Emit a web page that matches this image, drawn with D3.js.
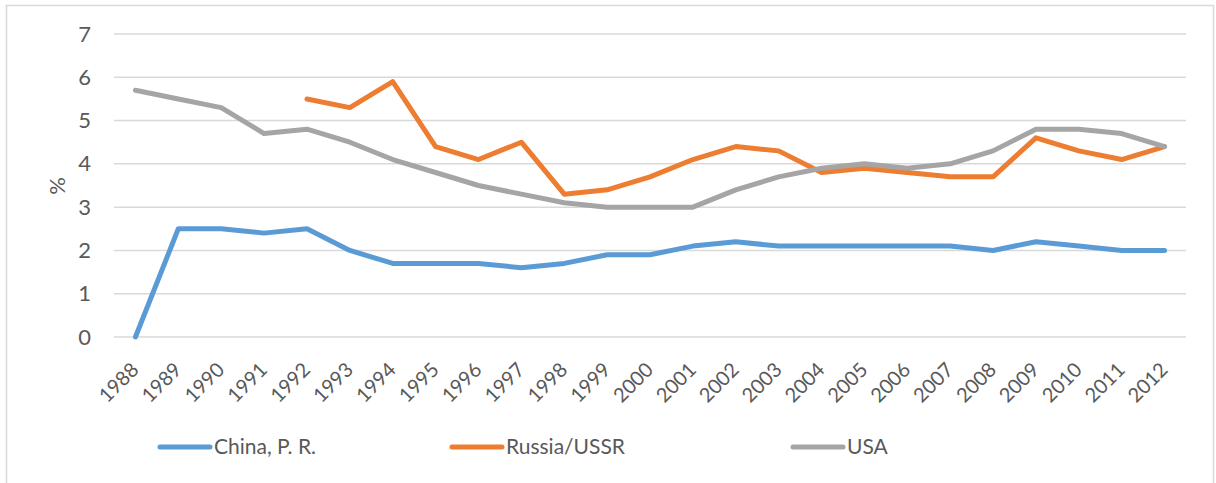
<!DOCTYPE html>
<html>
  <head>
    <title>Military spending, % of GDP</title>
    <script src="https://cdn.jsdelivr.net/npm/d3@7/dist/d3.min.js"></script>
    <style>
      body { margin: 0; background: #fff; }
      text { font-family: Lato, "Open Sans", sans-serif; fill: #595959; }
    </style>
  </head>
  <body>
    <svg width="1216" height="483"></svg>
    <script>

      const years = d3.range(1988, 2013).map(String);

      const china = [0, 2.5, 2.5, 2.4, 2.5, 2.0, 1.7, 1.7, 1.7, 1.6, 1.7, 1.9, 1.9,
                     2.1, 2.2, 2.1, 2.1, 2.1, 2.1, 2.1, 2.0, 2.2, 2.1, 2.0, 2.0];

      // no figures before 1992
      const russia = [null, null, null, null, 5.5, 5.3, 5.9, 4.4, 4.1, 4.5, 3.3, 3.4, 3.7,
                      4.1, 4.4, 4.3, 3.8, 3.9, 3.8, 3.7, 3.7, 4.6, 4.3, 4.1, 4.4];

      const usa = [5.7, 5.5, 5.3, 4.7, 4.8, 4.5, 4.1, 3.8, 3.5, 3.3, 3.1, 3.0, 3.0,
                   3.0, 3.4, 3.7, 3.9, 4.0, 3.9, 4.0, 4.3, 4.8, 4.8, 4.7, 4.4];

      const yTicks = [0, 1, 2, 3, 4, 5, 6, 7];

      const series = [
        {name: "China, P. R.", values: china, color: "#5B9BD5"},
        {name: "Russia/USSR", values: russia, color: "#ED7D31"},
        {name: "USA", values: usa, color: "#A5A5A5"}
      ];

      const svg = d3.select("svg");

      // chart frame
      svg.append("rect")
         .attr("x", 6.5).attr("y", 5.5)
         .attr("width", 1207).attr("height", 500)
         .attr("fill", "none")
         .attr("stroke", "#D9D9D9")
         .attr("stroke-width", 1.5);

      const x = d3.scalePoint()
                  .domain(years)
                  .range([114, 1186])
                  .padding(0.5);

      const y = d3.scaleLinear()
                  .domain([0, 7])
                  .range([337, 34]);

      // gridlines
      svg.append("g")
         .selectAll("line")
         .data(yTicks)
         .join("line")
           .attr("x1", 114).attr("x2", 1186)
           .attr("y1", d => y(d)).attr("y2", d => y(d))
           .attr("stroke", "#D9D9D9")
           .attr("stroke-width", 1.5);

      // y axis
      const yAxis = svg.append("g")
         .attr("transform", "translate(114,0)")
         .call(d3.axisLeft(y).tickValues(yTicks).tickFormat(d3.format("d"))
                 .tickSize(0).tickPadding(23));
      yAxis.select(".domain").remove();
      yAxis.selectAll("text")
           .style("font-size", "22px")
           .attr("fill", "#595959");

      svg.append("text")
         .attr("transform", "translate(65,186) rotate(-90)")
         .attr("text-anchor", "middle")
         .style("font-size", "22px")
         .text("%");

      // x axis
      const xAxis = svg.append("g")
         .attr("transform", "translate(0,337)")
         .call(d3.axisBottom(x).tickSize(0).tickPadding(0));
      xAxis.select(".domain").remove();
      xAxis.selectAll("text")
           .style("font-size", "20px")
           .attr("fill", "#595959")
           .attr("text-anchor", "end")
           .attr("dy", null)
           .attr("y", 0)
           .attr("transform", "translate(4,34) rotate(-45)");

      const line = d3.line()
                     .defined(d => d != null)
                     .x((d, i) => x(years[i]))
                     .y(d => y(d));

      svg.append("g")
         .selectAll("path")
         .data(series)
         .join("path")
           .attr("d", d => line(d.values))
           .attr("fill", "none")
           .attr("stroke", d => d.color)
           .attr("stroke-width", 5)
           .attr("stroke-linejoin", "round")
           .attr("stroke-linecap", "round");

      // legend
      const legendX = [160, 452, 793];
      const legend = svg.append("g")
         .selectAll("g")
         .data(series)
         .join("g")
           .attr("transform", (d, i) => `translate(${legendX[i]},447)`);

      legend.append("line")
            .attr("x1", 0).attr("x2", 50)
            .attr("stroke", d => d.color)
            .attr("stroke-width", 5)
            .attr("stroke-linecap", "round");

      legend.append("text")
            .attr("x", 54)
            .attr("dy", "0.35em")
            .style("font-size", "21px")
            .text(d => d.name);

    </script>
  </body>
</html>
